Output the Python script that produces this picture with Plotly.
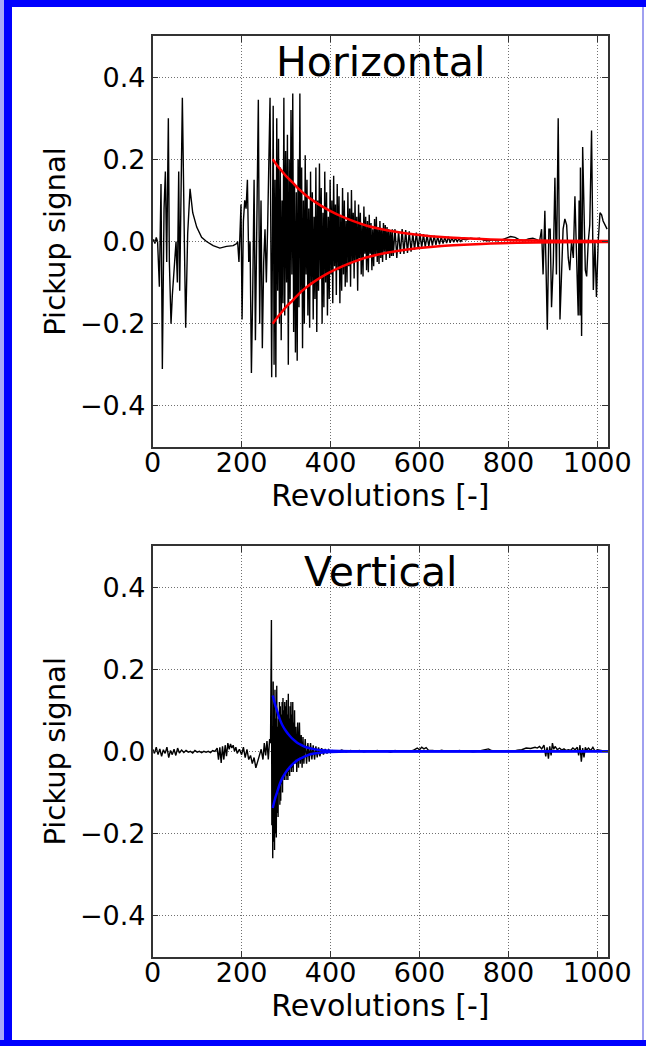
import plotly.graph_objects as go

# ---------------- data ----------------
# Horizontal pickup signal
h_x_early = [0, 2, 5, 8, 11, 15, 18.7, 21.7, 25.5, 28.5, 31.5, 35.2, 37.5, 41.2, 44.2, 48.7,
             52.5, 55.5, 58.5, 60.7, 63, 66.7, 71.2, 74.2, 78.7, 84, 90, 99, 110, 121, 136,
             151, 166, 181, 189]
h_y_early = [0.0, 0.005, -0.005, 0.01, 0.0, -0.11, 0.14, -0.31, 0.08, 0.17, -0.05, 0.30, -0.05,
             -0.20, -0.13, -0.05, 0.0, -0.10, 0.17, -0.12, 0.03, 0.35, 0.0, -0.21, 0.02, 0.128,
             0.07, 0.035, 0.01, 0.0, -0.01, -0.016, -0.012, -0.01, -0.005]

h_x_burst = [191, 194, 196, 198.6, 201, 204, 207, 210, 213, 216, 219, 222, 225, 228, 231, 234,
             237.6, 240.6, 243.6, 246.6, 249.6, 252.6, 255.6, 258.6, 261.6, 263.9, 267.6]
h_y_burst = [0.0, -0.05, 0.0, 0.09, -0.19, 0.05, 0.10, 0.08, 0.15, -0.05, 0.0, -0.32, -0.12,
             0.15, -0.24, 0.05, 0.345, -0.20, 0.10, -0.26, -0.05, 0.03, -0.10, 0.04, 0.20,
             0.35, -0.33]

h_x_dense = [271, 273, 275, 277, 279, 281, 283, 285, 287, 289,
             291, 293, 295, 297, 299, 301, 303, 305, 307, 309,
             311, 313, 315, 317, 319, 321, 323, 325, 327, 329,
             331, 333, 335, 337, 339, 341, 343, 345, 347, 349,
             351, 353, 355, 357, 359, 361, 363, 365, 367, 369,
             371, 373, 375, 377, 379, 381, 383, 385, 387, 389,
             391, 393, 395, 397, 399, 401, 403, 405, 407, 409,
             411, 413, 415, 417, 419, 421, 423, 425, 427, 429,
             431, 433, 435, 437, 439, 441, 443, 445, 447, 449,
             451, 453, 455, 457, 459, 461, 463, 465, 467, 469,
             471, 473, 475, 477, 479, 481, 483, 485, 487, 489,
             491, 493, 495, 497, 499, 501, 503, 505, 507, 509,
             511, 513, 515, 517, 519, 521, 523, 525, 527, 529,
             531, 533, 535, 537, 539]
h_y_dense = [0.33, -0.30, 0.15, -0.33, 0.30, -0.12, 0.25, -0.20, 0.18, -0.24,
             0.10, -0.15, 0.35, -0.18, 0.22, -0.10, 0.26, -0.30, 0.20, -0.14,
             0.32, -0.08, 0.36, -0.22, 0.14, -0.27, 0.12, -0.29, 0.20, -0.16,
             0.36, -0.12, 0.18, -0.26, 0.10, -0.20, 0.21, -0.08, 0.15, -0.18,
             0.08, -0.21, 0.17, -0.10, 0.12, -0.19, 0.06, -0.14, 0.18, -0.22,
             0.10, -0.12, 0.19, -0.09, 0.13, -0.20, 0.07, -0.16, 0.17, -0.10,
             0.12, -0.18, 0.06, -0.14, 0.15, -0.08, 0.10, -0.15, 0.16, -0.06,
             0.09, -0.13, 0.14, -0.07, 0.11, -0.15, 0.06, -0.12, 0.13, -0.08,
             0.10, -0.11, 0.05, -0.10, 0.12, -0.06, 0.08, -0.11, 0.125, -0.05,
             0.07, -0.09, 0.10, -0.05, 0.06, -0.12, 0.09, -0.04, 0.07, -0.08,
             0.04, -0.085, 0.085, -0.03, 0.06, -0.07, 0.05, -0.075, 0.065, -0.03,
             0.045, -0.07, 0.03, -0.06, 0.055, -0.035, 0.06, -0.05, 0.035, -0.055,
             0.05, -0.04, 0.03, -0.05, 0.045, -0.025, 0.04, -0.045, 0.035, -0.03,
             0.03, -0.04, 0.025, -0.035, 0.03]

h_x_tail = [541, 545, 549, 553, 557, 561, 565, 569, 573, 577, 581, 585, 589, 593, 597, 601,
            605, 609, 613, 617, 621, 625, 629, 633, 637, 641, 645, 649, 653, 657, 661, 665,
            669, 673, 677, 681, 685, 689, 693, 697]
h_y_tail = [-0.035, 0.03, -0.04, 0.025, -0.03, 0.03, -0.03, 0.028, -0.028, 0.025, -0.025, 0.02,
            -0.02, 0.022, -0.018, 0.02, -0.015, 0.018, -0.014, 0.016, -0.012, 0.015, -0.01,
            0.014, -0.008, 0.012, -0.007, 0.012, -0.005, 0.01, -0.004, 0.012, -0.003, 0.01,
            -0.002, 0.008, 0.0, 0.007, 0.0, 0.006]

h_x_quiet = [705, 715, 725, 735, 745, 755, 765, 775, 785, 795, 805, 815, 825, 835, 845, 855,
             865, 870]
h_y_quiet = [0.004, 0.008, 0.006, 0.008, 0.003, 0.002, 0.004, 0.002, 0.004, 0.008, 0.012,
             0.01, 0.004, 0.002, 0.006, 0.008, 0.004, 0.0]

h_x_end = [874.6, 878, 882, 887.5, 891, 894, 897, 901, 904.6, 908, 912, 916, 919.6, 923, 927,
           931, 934.6, 938, 942, 946, 949.6, 953, 957, 959, 961, 962, 964.6, 967, 970, 973,
           976, 979.6, 983, 987, 991, 994.6, 998, 1002, 1006, 1009.6, 1013, 1017, 1022]
h_y_end = [0.03, -0.08, 0.075, -0.215, 0.03, 0.03, -0.16, -0.05, 0.155, -0.08, 0.30, -0.19,
           -0.08, 0.03, 0.055, 0.04, -0.04, -0.07, 0.0, -0.04, 0.11, 0.0, -0.18, 0.10, -0.18,
           0.18, -0.23, 0.23, 0.10, -0.07, -0.085, 0.0, 0.04, 0.27, -0.118, 0.0, -0.135, 0.0,
           0.07, 0.065, 0.05, 0.04, 0.03]

# Horizontal decay envelope (red)
h_env_x = [270, 280, 290, 300, 315, 330, 345, 360, 380, 400, 425, 450, 480, 510, 550, 600,
           650, 700, 760, 820, 900, 1024]
h_env_upper = [0.20, 0.185, 0.172, 0.159, 0.143, 0.126, 0.112, 0.10, 0.086, 0.074, 0.061,
               0.05, 0.039, 0.031, 0.023, 0.016, 0.011, 0.008, 0.005, 0.003, 0.002, 0.001]
h_env_lower = [-0.20, -0.185, -0.172, -0.159, -0.143, -0.126, -0.112, -0.10, -0.086, -0.074,
               -0.061, -0.05, -0.039, -0.031, -0.023, -0.016, -0.011, -0.008, -0.005, -0.003,
               -0.002, -0.001]

# Vertical pickup signal
v_x_early = [0, 4, 8, 12, 16, 20, 24, 28, 32, 36, 40, 44, 48, 52, 56, 60, 65, 70, 75, 80, 85,
             90, 95, 100, 105, 110, 115, 120, 125, 130, 135, 140, 145, 148, 151, 154, 157, 160,
             163, 166, 169, 172, 175, 178, 181, 184, 187, 190, 195, 200, 204, 208, 212, 216,
             220, 224, 228, 232, 236, 240, 244, 248, 251, 254, 257, 260, 263]
v_y_early = [0.005, -0.005, 0.01, -0.008, 0.006, -0.012, 0.004, -0.005, 0.01, -0.015, 0.002,
             -0.008, 0.005, -0.01, 0.008, -0.004, 0.003, -0.003, 0.002, -0.002, 0.0, -0.004,
             0.002, -0.002, 0.0, -0.003, 0.0, -0.002, 0.0, -0.003, 0.002, 0.0, 0.008, -0.02,
             0.01, -0.028, 0.012, -0.02, 0.015, -0.012, 0.02, 0.005, 0.018, 0.008, 0.015, 0.0,
             0.01, -0.005, 0.005, -0.008, 0.01, -0.015, 0.005, -0.02, -0.01, -0.03, -0.015,
             -0.04, -0.025, -0.01, 0.005, -0.02, 0.02, -0.01, 0.025, -0.02, 0.03]

v_x_kick = [265, 267, 268, 269, 270, 271, 272, 273, 274, 275, 276, 277, 278, 279, 280, 281,
            282, 283, 284, 285, 286, 287, 288, 289, 290, 291, 292, 293, 294, 295, 296, 297,
            298, 299, 300, 301, 302, 303, 304, 305, 306, 307, 308, 309, 310, 311, 312, 313,
            314, 315, 316, 317, 318, 319, 320, 322, 324, 326, 328, 330, 332, 334, 336, 338,
            340, 343, 346, 349, 352, 355, 358, 361, 364, 367, 370, 373, 376, 380, 384, 388,
            392, 396, 400]
v_y_kick = [0.02, 0.32, -0.18, 0.06, -0.26, 0.17, -0.22, 0.12, -0.24, 0.15, -0.20, 0.08,
            -0.21, 0.16, -0.15, 0.06, -0.16, 0.08, -0.10, 0.12, -0.13, 0.11, -0.12, 0.09,
            -0.08, 0.12, -0.10, 0.13, -0.06, 0.10, -0.07, 0.12, -0.05, 0.11, -0.07, 0.125,
            -0.06, 0.09, -0.07, 0.14, -0.05, 0.08, -0.06, 0.11, -0.04, 0.12, -0.05, 0.09,
            -0.04, 0.12, -0.05, 0.07, -0.03, 0.10, -0.03, 0.06, -0.05, 0.07, -0.04, 0.07,
            -0.03, 0.04, -0.04, 0.035, -0.03, 0.03, -0.03, 0.02, -0.025, 0.02, -0.02, 0.015,
            -0.02, 0.012, -0.015, 0.01, -0.012, 0.008, -0.008, 0.006, -0.005, 0.004, -0.002]

v_x_late = [405, 415, 425, 435, 445, 455, 465, 475, 485, 495, 505, 515, 525, 535, 545, 555,
            565, 575, 585, 595, 600, 605, 610, 615, 620, 630, 640, 650, 660, 670, 680, 690,
            700, 710, 720, 730, 740, 750, 755, 760, 770, 780, 790, 800, 810, 820, 830, 840,
            850, 860, 865, 870, 875, 880, 884, 887, 890, 893, 896, 899, 902, 905, 910, 915,
            920, 925, 930, 935, 940, 945, 950, 955, 958, 961, 964, 967, 970, 973, 976, 980,
            985, 990, 995, 1000, 1010, 1020]
v_y_late = [0.002, -0.002, 0.003, -0.001, 0.002, 0.0, 0.002, -0.001, 0.001, 0.0, 0.002, 0.0,
            0.001, -0.002, 0.002, 0.0, 0.001, 0.0, 0.002, 0.008, 0.004, 0.01, 0.006, 0.009,
            0.003, 0.002, 0.0, 0.003, 0.0, 0.001, 0.0, 0.002, 0.0, 0.001, -0.001, 0.0, 0.002,
            0.004, 0.006, 0.003, 0.0, 0.001, 0.0, 0.002, 0.0, 0.003, 0.004, 0.008, 0.007,
            0.01, 0.008, 0.012, 0.006, 0.015, -0.012, 0.01, -0.018, 0.012, -0.01, 0.02, 0.005,
            0.012, 0.004, 0.008, 0.003, 0.006, 0.002, 0.004, 0.002, 0.008, 0.004, 0.01, -0.01,
            0.015, -0.025, 0.008, -0.015, 0.01, 0.003, 0.008, 0.002, 0.01, 0.0, 0.004, 0.002,
            0.0]

# Vertical decay envelope (blue)
v_env_x = [270, 275, 280, 286, 292, 300, 308, 316, 325, 335, 345, 360, 380, 400, 450, 1024]
v_env_upper = [0.136, 0.115, 0.098, 0.078, 0.063, 0.049, 0.038, 0.029, 0.021, 0.015, 0.010,
               0.006, 0.003, 0.0015, 0.0005, 0.0]
v_env_lower = [-0.138, -0.116, -0.099, -0.079, -0.064, -0.05, -0.039, -0.03, -0.022, -0.016,
               -0.011, -0.006, -0.003, -0.0015, -0.0005, 0.0]

x_ticks = [0, 200, 400, 600, 800, 1000]
x_tick_labels = ["0", "200", "400", "600", "800", "1000"]
y_ticks = [-0.4, -0.2, 0.0, 0.2, 0.4]
y_tick_labels = ["\u22120.4", "\u22120.2", "0.0", "0.2", "0.4"]

panel_titles = ["Horizontal", "Vertical"]
x_label = "Revolutions [-]"
y_label = "Pickup signal"

# ---------------- figure ----------------
W, H = 646, 1046
FONT = "DejaVu Sans"

def px_x(p):
    return p / W

def px_y(p):
    return 1 - p / H

fig = go.Figure()

h_x = h_x_early + h_x_burst + h_x_dense + h_x_tail + h_x_quiet + h_x_end
h_y = h_y_early + h_y_burst + h_y_dense + h_y_tail + h_y_quiet + h_y_end
v_x = v_x_early + v_x_kick + v_x_late
v_y = v_y_early + v_y_kick + v_y_late

fig.add_trace(go.Scatter(x=h_x, y=h_y, mode="lines", line=dict(color="black", width=1.4),
                         xaxis="x", yaxis="y", showlegend=False, hoverinfo="skip"))
fig.add_trace(go.Scatter(x=h_env_x, y=h_env_upper, mode="lines", line_shape="spline",
                         line=dict(color="red", width=2.5), xaxis="x", yaxis="y",
                         showlegend=False))
fig.add_trace(go.Scatter(x=h_env_x, y=h_env_lower, mode="lines", line_shape="spline",
                         line=dict(color="red", width=2.5), xaxis="x", yaxis="y",
                         showlegend=False))

fig.add_trace(go.Scatter(x=v_x, y=v_y, mode="lines", line=dict(color="black", width=1.4),
                         xaxis="x2", yaxis="y2", showlegend=False, hoverinfo="skip"))
fig.add_trace(go.Scatter(x=v_env_x, y=v_env_upper, mode="lines", line_shape="spline",
                         line=dict(color="blue", width=2.5), xaxis="x2", yaxis="y2",
                         showlegend=False))
fig.add_trace(go.Scatter(x=v_env_x, y=v_env_lower, mode="lines", line_shape="spline",
                         line=dict(color="blue", width=2.5), xaxis="x2", yaxis="y2",
                         showlegend=False))

x_dom = [px_x(152.7), px_x(608)]
y_dom_top = [px_y(447), px_y(36)]
y_dom_bot = [px_y(956.7), px_y(546)]

common = dict(showline=True, linecolor="#333333", linewidth=1.5, mirror="ticks",
              ticks="inside", ticklen=6, tickwidth=1, tickcolor="#333333",
              showgrid=True, gridcolor="#707070", griddash="1px,2px", gridwidth=1,
              zeroline=False, automargin=False,
              tickfont=dict(family=FONT, size=27, color="black"))

def xaxis(anchor):
    return dict(common, domain=x_dom, anchor=anchor, range=[0, 1024],
                tickmode="array", tickvals=x_ticks, ticktext=x_tick_labels,
                ticklabelstandoff=-9,
                title=dict(text=x_label, font=dict(family=FONT, size=30, color="black"),
                           standoff=0))

def yaxis(anchor, dom):
    return dict(common, domain=dom, anchor=anchor, range=[-0.5, 0.5],
                tickmode="array", tickvals=y_ticks, ticktext=y_tick_labels,
                title=dict(text=y_label, font=dict(family=FONT, size=29, color="black"),
                           standoff=6))

fig.update_layout(
    width=W, height=H,
    margin=dict(l=0, r=0, t=0, b=0),
    paper_bgcolor="white", plot_bgcolor="white",
    font=dict(family=FONT, color="black"),
    xaxis=xaxis("y"), yaxis=yaxis("x", y_dom_top),
    xaxis2=xaxis("y2"), yaxis2=yaxis("x2", y_dom_bot),
    showlegend=False,
)

fig.add_annotation(text=panel_titles[0], xref="paper", yref="paper",
                   x=px_x(380.4), y=px_y(62), xanchor="center", yanchor="middle",
                   showarrow=False, font=dict(family=FONT, size=41, color="black"))
fig.add_annotation(text=panel_titles[1], xref="paper", yref="paper",
                   x=px_x(380.4), y=px_y(571.5), xanchor="center", yanchor="middle",
                   showarrow=False, font=dict(family=FONT, size=41, color="black"))

# blue frame around the picture
border = [
    (0, 0, W, 7, "#0000ff"),       # top
    (0, 0, 4, H, "#a8a8f8"),       # left light edge
    (4, 0, 12, H, "#0000ff"),      # left
    (0, 1040, W, H, "#0000ff"),    # bottom
    (642, 7, 644, 1040, "#a0a0f0"),  # right thin line
]
for x0, y0, x1, y1, c in border:
    fig.add_shape(type="rect", xref="paper", yref="paper",
                  x0=px_x(x0), x1=px_x(x1), y0=px_y(y1), y1=px_y(y0),
                  fillcolor=c, line=dict(width=0), layer="above")

fig.write_html("out.html")
